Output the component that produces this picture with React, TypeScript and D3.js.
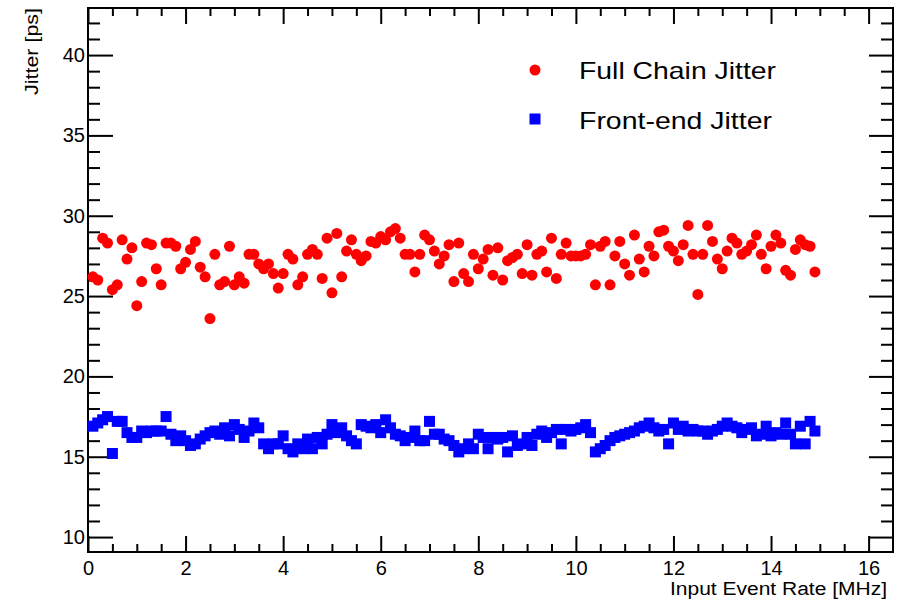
import React, {useEffect, useRef} from "react";
import * as d3 from "d3";

// input event rate [MHz], one scan point every 0.1 MHz
const rate = [
    0.1, 0.2, 0.3, 0.4, 0.5, 0.6, 0.7, 0.8, 0.9, 1.0, 1.1, 1.2, 1.3, 1.4, 1.5, 1.6, 1.7, 1.8, 1.9, 2.0,
    2.1, 2.2, 2.3, 2.4, 2.5, 2.6, 2.7, 2.8, 2.9, 3.0, 3.1, 3.2, 3.3, 3.4, 3.5, 3.6, 3.7, 3.8, 3.9, 4.0,
    4.1, 4.2, 4.3, 4.4, 4.5, 4.6, 4.7, 4.8, 4.9, 5.0, 5.1, 5.2, 5.3, 5.4, 5.5, 5.6, 5.7, 5.8, 5.9, 6.0,
    6.1, 6.2, 6.3, 6.4, 6.5, 6.6, 6.7, 6.8, 6.9, 7.0, 7.1, 7.2, 7.3, 7.4, 7.5, 7.6, 7.7, 7.8, 7.9, 8.0,
    8.1, 8.2, 8.3, 8.4, 8.5, 8.6, 8.7, 8.8, 8.9, 9.0, 9.1, 9.2, 9.3, 9.4, 9.5, 9.6, 9.7, 9.8, 9.9, 10.0,
    10.1, 10.2, 10.3, 10.4, 10.5, 10.6, 10.7, 10.8, 10.9, 11.0, 11.1, 11.2, 11.3, 11.4, 11.5, 11.6, 11.7, 11.8, 11.9, 12.0,
    12.1, 12.2, 12.3, 12.4, 12.5, 12.6, 12.7, 12.8, 12.9, 13.0, 13.1, 13.2, 13.3, 13.4, 13.5, 13.6, 13.7, 13.8, 13.9, 14.0,
    14.1, 14.2, 14.3, 14.4, 14.5, 14.6, 14.7, 14.8, 14.9
];

// jitter [ps]
const fullChain = [
    26.2, 26.0, 28.6, 28.3, 25.4, 25.7, 28.5, 27.3, 28.0, 24.4, 25.9, 28.3, 28.2, 26.7, 25.7, 28.3, 28.3, 28.1, 26.7, 27.1,
    27.9, 28.4, 26.8, 26.2, 23.6, 27.6, 25.7, 25.9, 28.1, 25.7, 26.2, 25.8, 27.6, 27.6, 27.0, 26.7, 27.0, 26.4, 25.5,
    26.4, 27.6, 27.3, 25.7, 26.2, 27.6, 27.9, 27.6, 26.1, 28.6, 25.2, 28.9, 26.2, 27.8, 28.5, 27.6, 27.2, 27.5, 28.4, 28.3,
    28.7, 28.5, 29.0, 29.2, 28.6, 27.6, 27.6, 26.5, 27.6, 28.8, 28.5, 27.8, 27.0, 27.5, 28.2, 25.9, 28.3, 26.4, 25.9,
    27.6, 26.7, 27.3, 27.9, 26.3, 28.0, 26.0, 27.2, 27.4, 27.6, 26.4, 28.2, 26.3, 27.6, 27.8, 26.5, 28.6, 26.1, 27.6, 28.3,
    27.5, 27.5, 27.5, 27.6, 28.2, 25.7, 28.1, 28.4, 25.7, 27.5, 28.4, 27.0, 26.3, 28.8, 27.3, 26.5, 28.1, 27.5, 29.0,
    29.1, 28.1, 27.8, 27.2, 28.2, 29.4, 27.6, 25.1, 27.6, 29.4, 28.4, 27.3, 26.7, 27.8, 28.6, 28.3, 27.6, 27.8, 28.2, 28.8,
    27.6, 26.7, 28.1, 28.8, 28.3, 26.6, 26.3, 27.9, 28.5, 28.2, 28.1, 26.5
];

const frontEnd = [
    16.9, 17.1, 17.3, 17.5, 15.2, 17.2, 17.2, 16.5, 16.2, 16.2, 16.6, 16.5, 16.6, 16.6, 16.6, 17.5, 16.4, 16.0, 16.3, 16.0,
    15.7, 15.8, 16.1, 16.3, 16.5, 16.6, 16.4, 16.8, 16.3, 17.0, 16.7, 16.2, 16.6, 17.1, 16.8, 15.8, 15.5, 15.8, 15.8,
    16.3, 15.5, 15.3, 15.8, 15.5, 16.1, 15.5, 16.2, 15.8, 16.4, 17.0, 16.5, 16.8, 16.3, 16.0, 15.8, 17.0, 16.9, 16.8, 17.0,
    16.5, 17.3, 16.8, 16.4, 16.3, 16.0, 16.2, 16.6, 16.0, 16.0, 17.2, 16.4, 16.4, 16.1, 16.0, 15.7, 15.3, 15.5, 15.8,
    15.5, 16.4, 16.2, 15.5, 16.2, 16.1, 16.2, 15.3, 16.3, 15.7, 15.8, 16.2, 15.7, 16.4, 16.6, 16.2, 16.5, 16.7, 15.8, 16.7,
    16.6, 16.7, 16.8, 17.0, 16.5, 15.3, 15.5, 15.7, 16.0, 16.2, 16.3, 16.4, 16.5, 16.6, 16.8, 16.9, 17.1, 16.8, 16.6,
    16.7, 15.8, 17.1, 16.7, 16.9, 16.6, 16.7, 16.6, 16.6, 16.4, 16.6, 16.7, 16.9, 17.1, 16.9, 16.8, 16.5, 16.7, 16.8, 16.3,
    16.4, 16.9, 16.3, 16.5, 16.4, 17.1, 16.4, 15.8, 16.9, 15.8, 17.2, 16.6
];

const xTicks = [0, 2, 4, 6, 8, 10, 12, 14, 16];
const xMinor = [0.5, 1, 1.5, 2.5, 3, 3.5, 4.5, 5, 5.5, 6.5, 7, 7.5, 8.5, 9, 9.5, 10.5, 11, 11.5, 12.5, 13, 13.5, 14.5, 15, 15.5];
const yTicks = [10, 15, 20, 25, 30, 35, 40];
const yMinor = [11, 12, 13, 14, 16, 17, 18, 19, 21, 22, 23, 24, 26, 27, 28, 29, 31, 32, 33, 34, 36, 37, 38, 39, 41, 42];

const seriesNames = ["Full Chain Jitter", "Front-end Jitter"];
const xTitle = "Input Event Rate [MHz]";
const yTitle = "Jitter [ps]";

const FONT = "'Liberation Sans', Arial, Helvetica, sans-serif";

const App = () => {

    const ref = useRef<SVGSVGElement>(null);

    useEffect(() => {
        const w = 908;
        const h = 602;
        const left = 88, right = 893, top = 8, bottom = 552;

        const svg = d3.select(ref.current)
            .attr("width", w)
            .attr("height", h);

        svg.selectAll("*").remove();

        svg.append("rect")
            .attr("width", w).attr("height", h)
            .attr("fill", "white");

        const xScale = d3.scaleLinear().domain([0, 16.5]).range([left, right]);
        const yScale = d3.scaleLinear().domain([9.07, 42.93]).range([bottom, top]);

        const styleAxis = (g) => {
            g.select(".domain").remove();
            g.selectAll("line").attr("stroke", "black").attr("stroke-width", 2);
            g.selectAll("text")
                .attr("fill", "black")
                .style("font-family", FONT)
                .style("font-size", "20px");
        };

        // bottom axis
        svg.append("g")
            .attr("transform", `translate(0, ${bottom})`)
            .call(d3.axisBottom(xScale).tickValues(xTicks).tickSize(-16).tickPadding(9).tickFormat(d3.format("d")))
            .call(styleAxis);
        svg.append("g")
            .attr("transform", `translate(0, ${bottom})`)
            .call(d3.axisBottom(xScale).tickValues(xMinor).tickSize(-8).tickFormat(() => ""))
            .call(styleAxis);

        // top axis (ticks only)
        svg.append("g")
            .attr("transform", `translate(0, ${top})`)
            .call(d3.axisTop(xScale).tickValues(xTicks).tickSize(-16).tickFormat(() => ""))
            .call(styleAxis);
        svg.append("g")
            .attr("transform", `translate(0, ${top})`)
            .call(d3.axisTop(xScale).tickValues(xMinor).tickSize(-8).tickFormat(() => ""))
            .call(styleAxis);

        // left axis
        svg.append("g")
            .attr("transform", `translate(${left}, 0)`)
            .call(d3.axisLeft(yScale).tickValues(yTicks).tickSize(-25).tickPadding(3).tickFormat(d3.format("d")))
            .call(styleAxis);
        svg.append("g")
            .attr("transform", `translate(${left}, 0)`)
            .call(d3.axisLeft(yScale).tickValues(yMinor).tickSize(-12).tickFormat(() => ""))
            .call(styleAxis);

        // right axis (ticks only)
        svg.append("g")
            .attr("transform", `translate(${right}, 0)`)
            .call(d3.axisRight(yScale).tickValues(yTicks).tickSize(-24).tickFormat(() => ""))
            .call(styleAxis);
        svg.append("g")
            .attr("transform", `translate(${right}, 0)`)
            .call(d3.axisRight(yScale).tickValues(yMinor).tickSize(-12).tickFormat(() => ""))
            .call(styleAxis);

        // frame
        svg.append("rect")
            .attr("x", left).attr("y", top)
            .attr("width", right - left).attr("height", bottom - top)
            .attr("fill", "none")
            .attr("stroke", "black")
            .attr("stroke-width", 2);

        // full chain jitter: red circles
        svg.append("g")
            .selectAll("circle")
            .data(fullChain)
            .enter()
            .append("circle")
            .attr("cx", (d, i) => xScale(rate[i]))
            .attr("cy", d => yScale(d))
            .attr("r", 5.5)
            .attr("fill", "#ff0000");

        // front-end jitter: blue squares
        const sq = 11;
        svg.append("g")
            .selectAll("rect")
            .data(frontEnd)
            .enter()
            .append("rect")
            .attr("x", (d, i) => xScale(rate[i]) - sq / 2)
            .attr("y", d => yScale(d) - sq / 2)
            .attr("width", sq)
            .attr("height", sq)
            .attr("fill", "#0000ff");

        // axis titles
        svg.append("text")
            .attr("x", 887).attr("y", 595)
            .attr("text-anchor", "end")
            .attr("textLength", 217)
            .attr("lengthAdjust", "spacingAndGlyphs")
            .style("font-family", FONT)
            .style("font-size", "18px")
            .text(xTitle);

        svg.append("text")
            .attr("transform", "translate(38, 8) rotate(-90)")
            .attr("text-anchor", "end")
            .attr("textLength", 87)
            .attr("lengthAdjust", "spacingAndGlyphs")
            .style("font-family", FONT)
            .style("font-size", "18px")
            .text(yTitle);

        // legend
        const legend = svg.append("g");
        legend.append("circle")
            .attr("cx", 535).attr("cy", 70).attr("r", 5.5)
            .attr("fill", "#ff0000");
        legend.append("text")
            .attr("x", 579).attr("y", 79)
            .attr("textLength", 197)
            .attr("lengthAdjust", "spacingAndGlyphs")
            .style("font-family", FONT)
            .style("font-size", "24px")
            .text(seriesNames[0]);
        legend.append("rect")
            .attr("x", 535 - sq / 2).attr("y", 119 - sq / 2)
            .attr("width", sq).attr("height", sq)
            .attr("fill", "#0000ff");
        legend.append("text")
            .attr("x", 579).attr("y", 129)
            .attr("textLength", 193)
            .attr("lengthAdjust", "spacingAndGlyphs")
            .style("font-family", FONT)
            .style("font-size", "24px")
            .text(seriesNames[1]);

    }, []);

    return (
        <div style={{position: "absolute", left: 0, top: 0}}>
            <svg ref={ref} style={{display: "block"}}></svg>
        </div>
    );
};

export default App;
